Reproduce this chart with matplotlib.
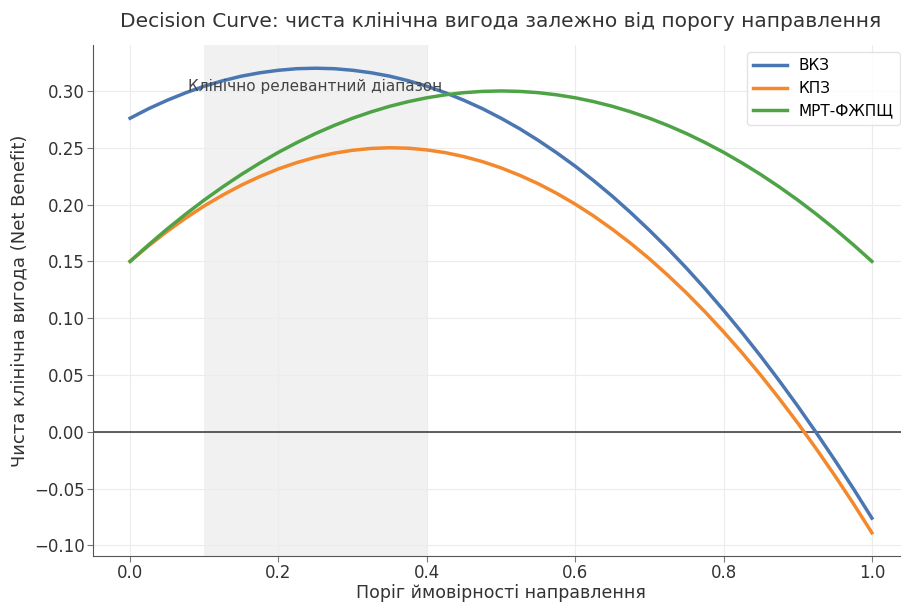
import numpy as np
import matplotlib
matplotlib.use('Agg')
import matplotlib.pyplot as plt

# thresholds and net benefit
thresholds = [0.000, 0.025, 0.050, 0.075, 0.100, 0.125, 0.150, 0.175, 0.200, 0.225,
              0.250, 0.275, 0.300, 0.325, 0.350, 0.375, 0.400, 0.425, 0.450, 0.475,
              0.500, 0.525, 0.550, 0.575, 0.600, 0.625, 0.650, 0.675, 0.700, 0.725,
              0.750, 0.775, 0.800, 0.825, 0.850, 0.875, 0.900, 0.925, 0.950, 0.975, 1.000]
nb_vkz = [0.2760, 0.2844, 0.2918, 0.2984, 0.3042, 0.3090, 0.3130, 0.3160, 0.3182, 0.3196,
          0.3200, 0.3196, 0.3182, 0.3160, 0.3130, 0.3090, 0.3042, 0.2984, 0.2918, 0.2844,
          0.2760, 0.2668, 0.2566, 0.2456, 0.2338, 0.2210, 0.2074, 0.1928, 0.1774, 0.1612,
          0.1440, 0.1260, 0.1070, 0.0872, 0.0666, 0.0450, 0.0226, -0.0008, -0.0250, -0.0500,
          -0.0760]
nb_kpz = [0.1500, 0.1637, 0.1764, 0.1881, 0.1988, 0.2084, 0.2171, 0.2247, 0.2314, 0.2370,
          0.2416, 0.2452, 0.2478, 0.2494, 0.2500, 0.2496, 0.2481, 0.2457, 0.2422, 0.2378,
          0.2323, 0.2258, 0.2184, 0.2099, 0.2004, 0.1899, 0.1783, 0.1658, 0.1523, 0.1377,
          0.1222, 0.1056, 0.0880, 0.0695, 0.0499, 0.0293, 0.0077, -0.0150, -0.0386, -0.0632,
          -0.0889]
nb_mrt = [0.1500, 0.1646, 0.1785, 0.1916, 0.2040, 0.2156, 0.2265, 0.2366, 0.2460, 0.2546,
          0.2625, 0.2696, 0.2760, 0.2816, 0.2865, 0.2906, 0.2940, 0.2966, 0.2985, 0.2996,
          0.3000, 0.2996, 0.2985, 0.2966, 0.2940, 0.2906, 0.2865, 0.2816, 0.2760, 0.2696,
          0.2625, 0.2546, 0.2460, 0.2366, 0.2265, 0.2156, 0.2040, 0.1916, 0.1785, 0.1646,
          0.1500]
series_names = ['ВКЗ', 'КПЗ', 'МРТ-ФЖПЩ']
relevant_range = (0.1, 0.4)

plt.rcParams['font.family'] = ['DejaVu Sans']
fig = plt.figure(figsize=(9.01, 6.02), dpi=100)
ax = fig.add_axes([93 / 901, 1 - 556 / 602, (909 - 93) / 901, (556 - 45) / 602])

ax.axvspan(relevant_range[0], relevant_range[1], color='#d9d9d9', alpha=0.35, lw=0, zorder=0)
ax.axhline(0, color='#333333', lw=1.1, zorder=1)

ax.plot(thresholds, nb_vkz, color='#4a76b2', lw=2.5, label=series_names[0], zorder=3)
ax.plot(thresholds, nb_kpz, color='#f3892c', lw=2.5, label=series_names[1], zorder=3)
ax.plot(thresholds, nb_mrt, color='#4ea346', lw=2.5, label=series_names[2], zorder=3)

ax.text(np.mean(relevant_range), 0.3035, 'Клінічно релевантний діапазон',
        ha='center', va='center', fontsize=11, color='#444444', zorder=4)

ax.set_title('Decision Curve: чиста клінічна вигода залежно від порогу направлення',
             fontsize=14.5, color='#333333', pad=13)
ax.set_xlabel('Поріг ймовірності направлення', fontsize=12.5, color='#333333', labelpad=1)
ax.set_ylabel('Чиста клінічна вигода (Net Benefit)', fontsize=13, color='#333333')

ax.grid(True, color='#ececec', lw=0.8, zorder=0)
ax.set_axisbelow(True)
for s in ['top', 'right']:
    ax.spines[s].set_visible(False)
for s in ['left', 'bottom']:
    ax.spines[s].set_color('#555555')
ax.tick_params(labelsize=12, colors='#333333', length=4, color='#777777', pad=2)

ax.legend(loc='upper right', bbox_to_anchor=(0.989, 0.986), borderaxespad=0,
          fontsize=11, frameon=True, edgecolor='#dddddd', handlelength=2.2)

fig.savefig('out.png', dpi=100)
